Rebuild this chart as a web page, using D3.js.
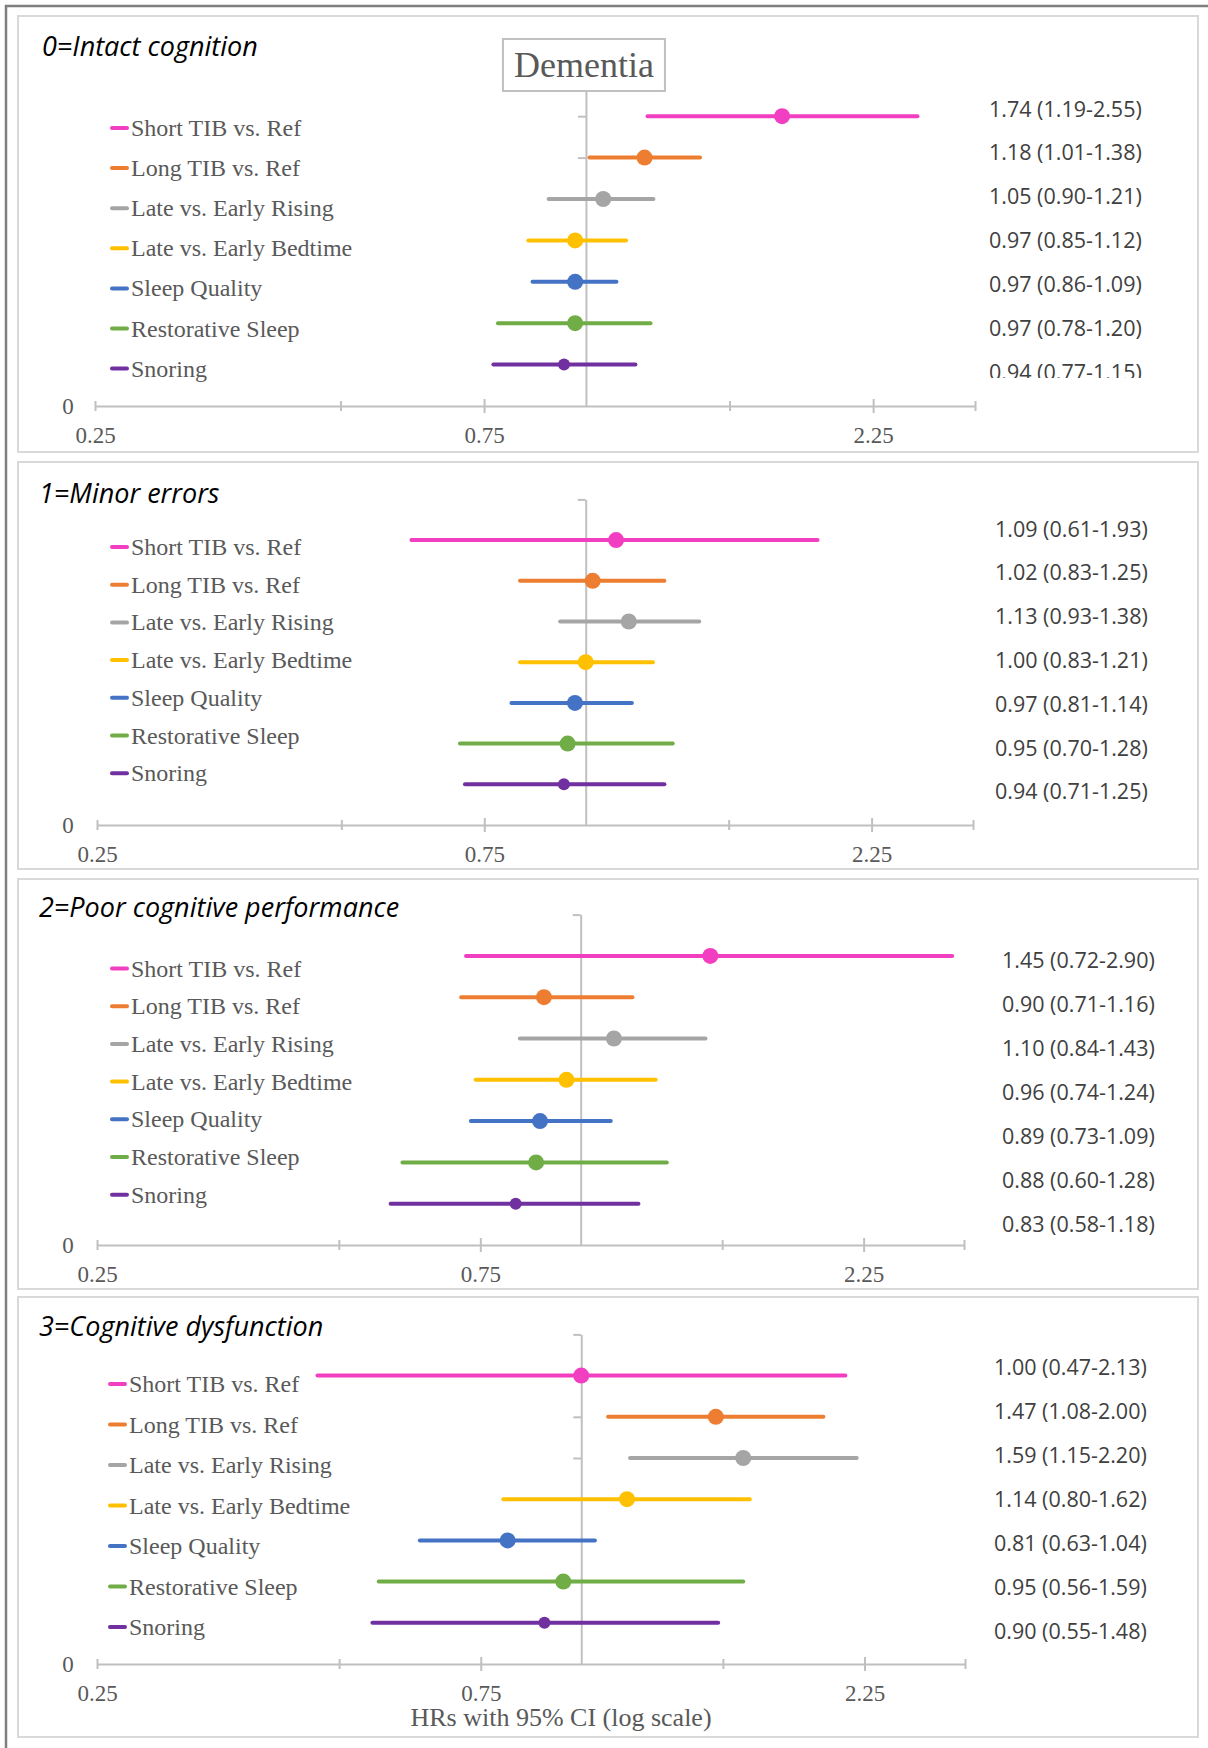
<!DOCTYPE html>
<html>
<head>
<meta charset="utf-8">
<script src="https://cdn.jsdelivr.net/npm/d3@7"></script>
<style>
  html, body { margin: 0; padding: 0; background: #ffffff; }
  svg { display: block; }
</style>
</head>
<body>
<svg id="chart" width="1208" height="1748"></svg>
<script>
// ---- Data -------------------------------------------------------------
const categories = [
  "Short TIB vs. Ref",
  "Long TIB vs. Ref",
  "Late vs. Early Rising",
  "Late vs. Early Bedtime",
  "Sleep Quality",
  "Restorative Sleep",
  "Snoring"
];

const panelTitles = [
  "0=Intact cognition",
  "1=Minor errors",
  "2=Poor cognitive performance",
  "3=Cognitive dysfunction"
];

// Hazard ratios with 95% confidence limits, one set per cognition group
const hrIntact   = [1.74, 1.18, 1.05, 0.97, 0.97, 0.97, 0.94];
const lowIntact  = [1.19, 1.01, 0.90, 0.85, 0.86, 0.78, 0.77];
const highIntact = [2.55, 1.38, 1.21, 1.12, 1.09, 1.20, 1.15];

const hrMinor    = [1.09, 1.02, 1.13, 1.00, 0.97, 0.95, 0.94];
const lowMinor   = [0.61, 0.83, 0.93, 0.83, 0.81, 0.70, 0.71];
const highMinor  = [1.93, 1.25, 1.38, 1.21, 1.14, 1.28, 1.25];

const hrPoor     = [1.45, 0.90, 1.10, 0.96, 0.89, 0.88, 0.83];
const lowPoor    = [0.72, 0.71, 0.84, 0.74, 0.73, 0.60, 0.58];
const highPoor   = [2.90, 1.16, 1.43, 1.24, 1.09, 1.28, 1.18];

const hrDysf     = [1.00, 1.47, 1.59, 1.14, 0.81, 0.95, 0.90];
const lowDysf    = [0.47, 1.08, 1.15, 0.80, 0.63, 0.56, 0.55];
const highDysf   = [2.13, 2.00, 2.20, 1.62, 1.04, 1.59, 1.48];

const xDomain = [0.25, 3];
const tickValues = [0.25, 0.5, 0.75, 1.5, 2.25, 3];
const tickLabels = ["0.25", "0.75", "2.25"];
const referenceHR = 1;

const chartTitle = "Dementia";
const xAxisTitle = "HRs with 95% CI (log scale)";

// ---- Styling ----------------------------------------------------------
const seriesColors = ["#F23EC0", "#ED7D31", "#A5A5A5", "#FFC000", "#4472C4", "#70AD47", "#7030A0"];
const markerRadius = [8, 8, 8, 8, 8, 8, 6];
const gridGray = "#c0c0c0";
const textGray = "#595959";
const serif = "'Liberation Serif', 'Times New Roman', serif";
const sans = "'Open Sans', 'Noto Sans', sans-serif";

// Geometry of each panel
const panels = [
  { title: panelTitles[0], hr: hrIntact, lo: lowIntact, hi: highIntact,
    top: 16, bottom: 452, axisY: 406, x0: 95, x1: 975, rowStep: 41.4,
    titleY: 56, titleX: 42, legX: 111, legY0: 128, legStep: 40.1,
    labX: 989, labY0: 109, labStep: 43.9, labClip: 378, showTitleBox: true },
  { title: panelTitles[1], hr: hrMinor, lo: lowMinor, hi: highMinor,
    top: 462, bottom: 869, axisY: 825, x0: 97, x1: 973, rowStep: 40.7,
    titleY: 503, titleX: 39, legX: 111, legY0: 547, legStep: 37.7,
    labX: 995, labY0: 529, labStep: 43.8 },
  { title: panelTitles[2], hr: hrPoor, lo: lowPoor, hi: highPoor,
    top: 879, bottom: 1289, axisY: 1245, x0: 97, x1: 964, rowStep: 41.3,
    titleY: 917, titleX: 39, legX: 111, legY0: 968.5, legStep: 37.7,
    labX: 1002, labY0: 960.6, labStep: 44 },
  { title: panelTitles[3], hr: hrDysf, lo: lowDysf, hi: highDysf,
    top: 1297, bottom: 1737, axisY: 1664, x0: 97, x1: 965, rowStep: 41.2,
    titleY: 1336, titleX: 39, legX: 109, legY0: 1384, legStep: 40.5,
    labX: 994, labY0: 1367, labStep: 44, showAxisTitle: true }
];

const svg = d3.select("#chart");
const defs = svg.append("defs");

// Outer frame
svg.append("rect")
  .attr("x", 6).attr("y", 6)
  .attr("width", 1240).attr("height", 1780)
  .attr("fill", "none")
  .attr("stroke", "#7f7f7f")
  .attr("stroke-width", 2.5);

const fmt = d3.format(".2f");

panels.forEach((p, pi) => {
  const g = svg.append("g").attr("class", "panel");

  // Panel frame
  g.append("rect")
    .attr("x", 18).attr("y", p.top)
    .attr("width", 1180).attr("height", p.bottom - p.top)
    .attr("fill", "#ffffff")
    .attr("stroke", "#d9d9d9")
    .attr("stroke-width", 2);

  const x = d3.scaleLog().domain(xDomain).range([p.x0, p.x1]);
  const y = d3.scaleLinear().domain([0, 8]).range([p.axisY, p.axisY - 8 * p.rowStep]);
  const row = i => categories.length - i;

  // Horizontal log axis
  const xAxis = d3.axisBottom(x)
    .tickValues(tickValues)
    .tickSizeOuter(0)
    .tickFormat(d => tickLabels.includes(fmt(d)) ? fmt(d) : "");
  const gx = g.append("g")
    .attr("transform", `translate(0,${p.axisY})`)
    .call(xAxis)
    .attr("font-family", serif)
    .attr("font-size", 23);
  gx.select(".domain").attr("stroke", gridGray).attr("stroke-width", 2);
  gx.selectAll(".tick line")
    .attr("stroke", gridGray).attr("stroke-width", 2)
    .attr("y1", d => (d === 0.75 || d === 2.25) ? -7 : -5)
    .attr("y2", d => (d === 0.75 || d === 2.25) ? 7 : 5);
  gx.selectAll(".tick text")
    .attr("y", 37).attr("dy", null)
    .attr("fill", textGray);

  // "0" at the origin of the category axis
  g.append("text")
    .attr("x", 68).attr("y", p.axisY + 8)
    .attr("text-anchor", "middle")
    .attr("font-family", serif).attr("font-size", 23)
    .attr("fill", textGray)
    .text(y.ticks(1)[0]);

  // Vertical reference axis at HR = 1
  const yAxis = d3.axisLeft(y)
    .tickValues(d3.range(1, 9))
    .tickSize(8)
    .tickSizeOuter(0)
    .tickFormat("");
  const gy = g.append("g")
    .attr("transform", `translate(${x(referenceHR)},0)`)
    .call(yAxis);
  gy.select(".domain").attr("stroke", gridGray).attr("stroke-width", 2);
  gy.selectAll(".tick line").attr("stroke", gridGray).attr("stroke-width", 2);

  // Confidence intervals
  g.append("g").selectAll("line")
    .data(categories)
    .join("line")
    .attr("x1", (c, i) => x(p.lo[i]))
    .attr("x2", (c, i) => x(p.hi[i]))
    .attr("y1", (c, i) => y(row(i)))
    .attr("y2", (c, i) => y(row(i)))
    .attr("stroke", (c, i) => seriesColors[i])
    .attr("stroke-width", 4)
    .attr("stroke-linecap", "round");

  // Point estimates
  g.append("g").selectAll("circle")
    .data(categories)
    .join("circle")
    .attr("cx", (c, i) => x(p.hr[i]))
    .attr("cy", (c, i) => y(row(i)))
    .attr("r", (c, i) => markerRadius[i])
    .attr("fill", (c, i) => seriesColors[i]);

  // Legend
  const leg = g.append("g").selectAll("g")
    .data(categories)
    .join("g")
    .attr("transform", (c, i) => `translate(${p.legX},${p.legY0 + i * p.legStep})`);
  leg.append("line")
    .attr("x1", 1).attr("x2", 16)
    .attr("y1", 0).attr("y2", 0)
    .attr("stroke", (c, i) => seriesColors[i])
    .attr("stroke-width", 4)
    .attr("stroke-linecap", "round");
  leg.append("text")
    .attr("x", 20).attr("y", 8)
    .attr("font-family", serif).attr("font-size", 24)
    .attr("fill", textGray)
    .text(c => c);

  // Value labels
  const lab = g.append("g");
  if (p.labClip) {
    const id = `labclip${pi}`;
    defs.append("clipPath").attr("id", id)
      .append("rect")
      .attr("x", p.labX - 10).attr("y", p.top)
      .attr("width", 1198 - p.labX + 10).attr("height", p.labClip - p.top);
    lab.attr("clip-path", `url(#${id})`);
  }
  lab.selectAll("text")
    .data(categories)
    .join("text")
    .attr("x", p.labX)
    .attr("y", (c, i) => p.labY0 + i * p.labStep + 7.5)
    .attr("font-family", sans).attr("font-size", 21.5)
    .attr("fill", "#404040")
    .text((c, i) => `${fmt(p.hr[i])} (${fmt(p.lo[i])}-${fmt(p.hi[i])})`);

  // Panel title
  g.append("text")
    .attr("x", p.titleX).attr("y", p.titleY)
    .attr("font-family", sans).attr("font-style", "italic")
    .attr("font-size", 27)
    .attr("fill", "#000000")
    .text(p.title);

  if (p.showTitleBox) {
    const cx = x(referenceHR) - 2;
    g.append("rect")
      .attr("x", cx - 81).attr("y", 39)
      .attr("width", 162).attr("height", 52)
      .attr("fill", "#ffffff")
      .attr("stroke", gridGray).attr("stroke-width", 2);
    g.append("text")
      .attr("x", cx).attr("y", 77)
      .attr("text-anchor", "middle")
      .attr("font-family", serif).attr("font-size", 36)
      .attr("fill", textGray)
      .text(chartTitle);
  }

  if (p.showAxisTitle) {
    g.append("text")
      .attr("x", 561).attr("y", 1726)
      .attr("text-anchor", "middle")
      .attr("font-family", serif).attr("font-size", 26)
      .attr("fill", textGray)
      .text(xAxisTitle);
  }
});
</script>
</body>
</html>
